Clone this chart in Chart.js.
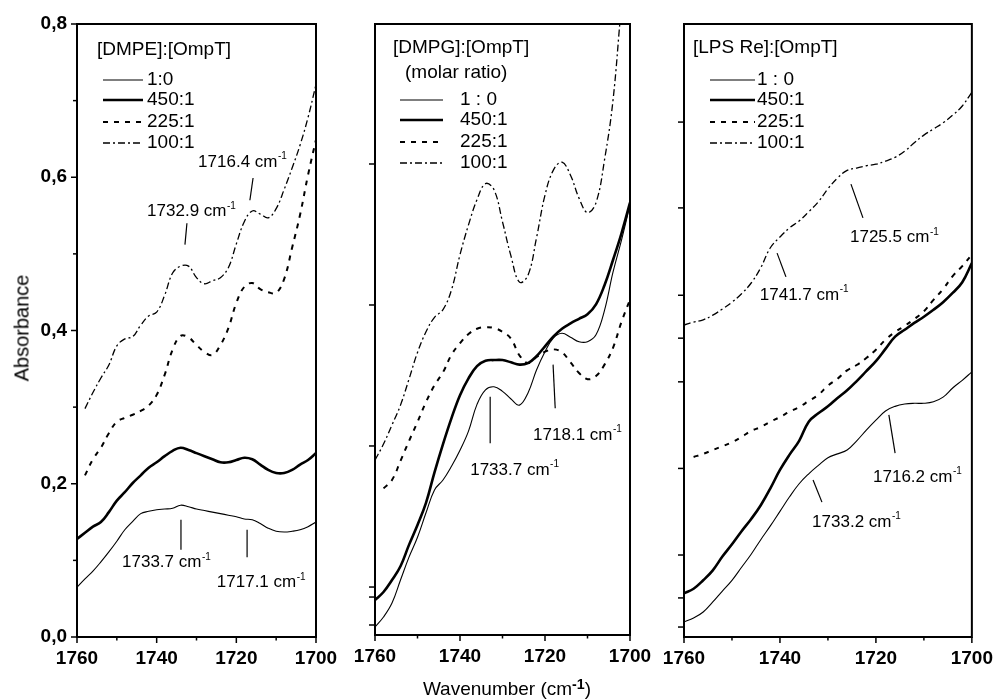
<!DOCTYPE html>
<html>
<head>
<meta charset="utf-8">
<script src="https://cdn.jsdelivr.net/npm/chart.js@4.4.1/dist/chart.umd.min.js"></script>
<style>
  html, body { margin: 0; padding: 0; background: #fff; }
  #wrap { position: relative; width: 997px; height: 700px; font-family: "Liberation Sans", Arial, Helvetica, sans-serif; color: #000; }
  .panel { position: absolute; left: 0; top: 0; width: 997px; height: 700px; }
  #ytitle { position: absolute; left: 22px; top: 328px; transform: translate(-50%, -50%) rotate(-90deg); font-size: 20px; white-space: nowrap; }
  #xtitle { position: absolute; left: 507px; top: 689px; transform: translate(-50%, -50%); font-size: 19px; white-space: nowrap; }
  #xtitle sup { font-size: 75%; font-weight: bold; vertical-align: 0.45em; line-height: 0; }
</style>
</head>
<body>
<div id="wrap">
  <div class="panel"><canvas id="p1"></canvas></div>
  <div class="panel"><canvas id="p2"></canvas></div>
  <div class="panel"><canvas id="p3"></canvas></div>
  <div id="ytitle">Absorbance</div>
  <div id="xtitle">Wavenumber (cm<sup>-1</sup>)</div>
</div>
<script>
// wavenumber grid (cm-1), shared by all panels
const wavenumbers = [1760, 1758, 1756, 1754, 1752, 1750, 1748, 1746, 1744, 1742, 1740,
  1738, 1736, 1734, 1732, 1730, 1728, 1726, 1724, 1722, 1720,
  1718, 1716, 1714, 1712, 1710, 1708, 1706, 1704, 1702, 1700];

// [DMPE]:[OmpT]
const dmpe_1_0   = [.065, .076, .086, .098, .111, .125, .140, .151, .161, .164, .166, .167, .168, .172, .170, .167, .165, .163, .161, .159, .157, .154, .153, .148, .142, .138, .137, .138, .140, .144, .150];
const dmpe_450_1 = [.128, .136, .144, .150, .163, .178, .189, .201, .211, .221, .228, .236, .243, .247, .244, .240, .236, .232, .228, .228, .231, .234, .232, .225, .218, .214, .214, .218, .225, .231, .240];
const dmpe_225_1 = [null, .211, .232, .247, .266, .281, .286, .290, .295, .302, .316, .342, .375, .393, .391, .381, .372, .368, .381, .403, .436, .457, .462, .454, .450, .449, .467, .508, .551, .603, .649];
const dmpe_100_1 = [null, .298, .319, .338, .355, .380, .389, .392, .407, .419, .424, .446, .475, .484, .484, .469, .461, .465, .469, .482, .513, .542, .556, .552, .547, .559, .584, .612, .642, .678, .721];

// [DMPG]:[OmpT]
const dmpg_1_0   = [.0105, .0236, .0419, .072, .102, .128, .160, .190, .203, .221, .242, .267, .302, .321, .325, .319, .309, .301, .317, .347, .371, .389, .395, .390, .384, .384, .393, .425, .475, .517, .563];
const dmpg_450_1 = [.0458, .0563, .072, .090, .118, .144, .173, .213, .250, .284, .314, .336, .352, .359, .360, .360, .357, .354, .356, .365, .378, .391, .401, .408, .414, .420, .433, .458, .491, .526, .566];
const dmpg_225_1 = [null, .192, .203, .228, .254, .279, .305, .327, .344, .367, .382, .394, .401, .403, .402, .397, .388, .366, .356, .364, .371, .374, .370, .357, .343, .335, .339, .354, .376, .410, .439];
const dmpg_100_1 = [.229, .250, .275, .301, .335, .370, .397, .416, .426, .452, .498, .537, .570, .591, .583, .541, .496, .462, .471, .520, .576, .609, .619, .602, .572, .553, .566, .622, .700, .825, .930];

// [LPS Re]:[OmpT]
const lps_1_0   = [.0196, .0248, .0326, .0457, .060, .074, .091, .108, .127, .145, .164, .183, .200, .213, .224, .234, .239, .244, .256, .270, .283, .295, .301, .304, .305, .305, .307, .313, .325, .335, .346];
const lps_450_1 = [.057, .063, .074, .087, .105, .121, .138, .154, .172, .194, .218, .238, .256, .281, .292, .301, .312, .322, .334, .347, .360, .376, .392, .401, .410, .418, .427, .437, .449, .463, .488];
const lps_225_1 = [null, .235, .239, .244, .249, .254, .261, .269, .274, .281, .287, .294, .300, .308, .316, .328, .337, .348, .355, .364, .375, .388, .398, .406, .415, .425, .440, .454, .471, .484, .499];
const lps_100_1 = [.407, .411, .414, .420, .428, .437, .448, .462, .482, .508, .522, .534, .543, .555, .568, .585, .599, .609, .612, .615, .617, .621, .626, .634, .645, .655, .663, .671, .681, .693, .711];

// legend labels
const labelsDmpe = ["1:0", "450:1", "225:1", "100:1"];
const labelsOther = ["1 : 0", "450:1", "225:1", "100:1"];

// tick values
const xMajorTicks = [1760, 1740, 1720, 1700];
const xMinorTicks = [1750, 1730, 1710];
const yMajorTicks1 = [0, 0.2, 0.4, 0.6, 0.8];
const yMinorTicks1 = [0.1, 0.3, 0.5, 0.7];
const yTicks2 = [0.6167, 0.4321, 0.2475, 0.0628, 0.0497, 0.0131];
const yTicks3 = [0.672, 0.560, 0.446, 0.390, 0.333, 0.220, 0.107, 0.051, 0.013];

// peak annotations: label, text anchor, leader line (data units)
const peaks1 = [
  { t: "1732.9 cm", tx: 1742.4, ty: .555, x1: 1732.4, y1: .540, x2: 1732.9, y2: .512 },
  { t: "1716.4 cm", tx: 1729.6, ty: .620, x1: 1715.8, y1: .599, x2: 1716.6, y2: .570 },
  { t: "1733.7 cm", tx: 1748.7, ty: .097, x1: 1733.9, y1: .153, x2: 1733.9, y2: .114 },
  { t: "1717.1 cm", tx: 1724.9, ty: .071, x1: 1717.3, y1: .140, x2: 1717.3, y2: .104 },
];
const peaks2 = [
  { t: "1733.7 cm", tx: 1737.6, ty: .216, x1: 1732.9, y1: .312, x2: 1732.9, y2: .251 },
  { t: "1718.1 cm", tx: 1722.8, ty: .262, x1: 1718.1, y1: .354, x2: 1717.6, y2: .297 },
];
const peaks3 = [
  { t: "1725.5 cm", tx: 1725.4, ty: .521, x1: 1725.2, y1: .591, x2: 1722.7, y2: .547 },
  { t: "1741.7 cm", tx: 1744.2, ty: .446, x1: 1740.6, y1: .501, x2: 1738.75, y2: .470 },
  { t: "1733.2 cm", tx: 1733.3, ty: .150, x1: 1733.1, y1: .205, x2: 1731.25, y2: .176 },
  { t: "1716.2 cm", tx: 1720.6, ty: .209, x1: 1717.3, y1: .290, x2: 1716.0, y2: .240 },
];

const FONT = '"Liberation Sans", Arial, Helvetica, sans-serif';

// line styles for 1:0, 450:1, 225:1, 100:1
const styles = [
  { borderWidth: 1.1, borderDash: [] },
  { borderWidth: 2.6, borderDash: [] },
  { borderWidth: 2, borderDash: [5, 6] },
  { borderWidth: 1.3, borderDash: [7, 3, 2, 3] },
];

function makeDatasets(series, labels) {
  return series.map((vals, i) => ({
    label: labels[i],
    data: vals.map((v, j) => ({ x: wavenumbers[j], y: v })),
    borderColor: "#000",
    borderWidth: styles[i].borderWidth,
    borderDash: styles[i].borderDash,
    pointRadius: 0,
    fill: false,
    tension: 0.4,
  }));
}

function supText(ctx, text, sup, x, y, size) {
  ctx.font = size + "px " + FONT;
  ctx.textBaseline = "middle";
  ctx.textAlign = "left";
  ctx.fillText(text, x, y);
  const w = ctx.measureText(text).width;
  ctx.font = Math.round(size * 0.6) + "px " + FONT;
  ctx.fillText(sup, x + w + 0.5, y - size * 0.33);
}

const decor = {
  id: "decor",
  afterDraw(chart, args, o) {
    const { ctx, chartArea: a } = chart;
    const x = chart.scales.x, y = chart.scales.y;
    ctx.save();
    ctx.strokeStyle = "#000";
    ctx.fillStyle = "#000";
    ctx.setLineDash([]);
    ctx.lineWidth = 1.5;
    const tick = (px, py, dx, dy) => { ctx.beginPath(); ctx.moveTo(px, py); ctx.lineTo(px + dx, py + dy); ctx.stroke(); };
    xMajorTicks.forEach(v => tick(x.getPixelForValue(v), a.bottom, 0, 6));
    xMinorTicks.forEach(v => tick(x.getPixelForValue(v), a.bottom, 0, 3.5));
    o.yMajor.forEach(v => tick(a.left, y.getPixelForValue(v), -6, 0));
    o.yMinor.forEach(v => tick(a.left, y.getPixelForValue(v), -4, 0));
    ctx.lineWidth = 2;
    ctx.strokeRect(a.left, a.top, a.right - a.left, a.bottom - a.top);

    // peak labels
    ctx.lineWidth = 1.2;
    o.peaks.forEach(p => {
      ctx.beginPath();
      ctx.moveTo(x.getPixelForValue(p.x1), y.getPixelForValue(p.y1));
      ctx.lineTo(x.getPixelForValue(p.x2), y.getPixelForValue(p.y2));
      ctx.stroke();
      supText(ctx, p.t, "-1", x.getPixelForValue(p.tx), y.getPixelForValue(p.ty), 17);
    });

    // legend
    const L = o.legend;
    ctx.font = "19px " + FONT;
    ctx.textBaseline = "middle";
    ctx.textAlign = "left";
    L.titles.forEach(([t, dx, dy]) => ctx.fillText(t, a.left + dx, a.top + dy));
    chart.data.datasets.forEach((ds, i) => {
      const ry = a.top + L.rows[i];
      ctx.lineWidth = ds.borderWidth;
      ctx.setLineDash(ds.borderDash);
      ctx.beginPath();
      ctx.moveTo(a.left + L.line[0], ry);
      ctx.lineTo(a.left + L.line[1], ry);
      ctx.stroke();
      ctx.setLineDash([]);
      ctx.fillText(ds.label, a.left + L.text, ry);
    });
    ctx.restore();
  },
};

function makeChart(id, series, labels, pad, showY, decorOpts) {
  new Chart(document.getElementById(id), {
    type: "line",
    data: { datasets: makeDatasets(series, labels) },
    options: {
      responsive: true,
      maintainAspectRatio: false,
      animation: false,
      events: [],
      layout: { padding: pad },
      plugins: { legend: { display: false }, tooltip: { enabled: false }, decor: decorOpts },
      scales: {
        x: {
          type: "linear",
          min: 1700,
          max: 1760,
          reverse: true,
          border: { display: false },
          grid: { display: false, tickLength: 6 },
          ticks: {
            stepSize: 20,
            autoSkip: false,
            maxRotation: 0,
            padding: 4,
            color: "#000",
            font: { family: FONT, size: 19, weight: "bold" },
            callback: v => String(v),
          },
          afterFit: s => { s.height = 63; },
        },
        y: {
          min: 0,
          max: 0.8,
          border: { display: false },
          grid: { display: false, tickLength: 6 },
          ticks: {
            display: showY,
            stepSize: 0.2,
            padding: 4,
            color: "#000",
            font: { family: FONT, size: 19, weight: "bold" },
            callback: v => v.toFixed(1).replace(".", ","),
          },
          afterFit: s => { s.width = showY ? 77 : 10; },
        },
      },
    },
    plugins: [decor],
  });
}

makeChart("p1", [dmpe_1_0, dmpe_450_1, dmpe_225_1, dmpe_100_1], labelsDmpe,
  { left: 0, right: 681, top: 24, bottom: 0 }, true,
  { yMajor: yMajorTicks1, yMinor: yMinorTicks1, peaks: peaks1,
    legend: { titles: [["[DMPE]:[OmpT]", 20, 26]], line: [26, 66], text: 70, rows: [56, 76, 98, 119] } });

makeChart("p2", [dmpg_1_0, dmpg_450_1, dmpg_225_1, dmpg_100_1], labelsOther,
  { left: 365, right: 367, top: 24, bottom: 2 }, false,
  { yMajor: yTicks2, yMinor: [], peaks: peaks2,
    legend: { titles: [["[DMPG]:[OmpT]", 18, 24], ["(molar ratio)", 30, 49]], line: [25, 68], text: 85, rows: [76, 96, 118, 139] } });

makeChart("p3", [lps_1_0, lps_450_1, lps_225_1, lps_100_1], labelsOther,
  { left: 674, right: 25, top: 24, bottom: 0 }, false,
  { yMajor: yTicks3, yMinor: [], peaks: peaks3,
    legend: { titles: [["[LPS Re]:[OmpT]", 9, 24]], line: [26, 71], text: 73, rows: [56, 76, 98, 119] } });
</script>
</body>
</html>
